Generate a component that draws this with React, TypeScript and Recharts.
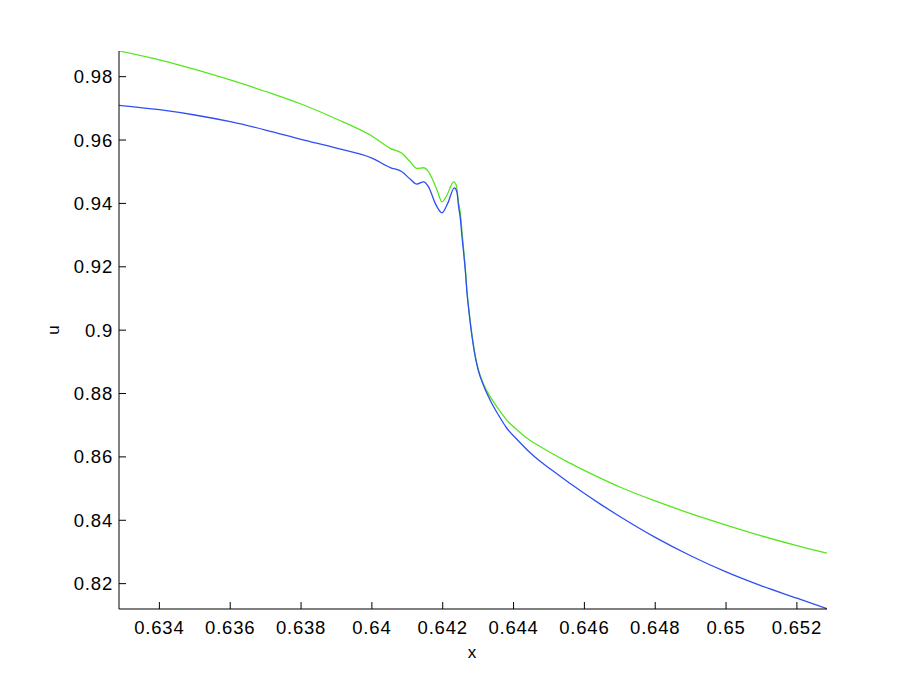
import { LineChart, Line, XAxis, YAxis } from 'recharts';

// green run: x positions and u values
const xGreen = [
  0.63286, 0.634, 0.635, 0.636, 0.637, 0.638, 0.639, 0.64, 0.64052, 0.64085, 0.64108, 0.64127,
  0.64146, 0.6416, 0.64184, 0.64198, 0.64212, 0.64231, 0.64238, 0.64245, 0.6425, 0.64254, 0.64259,
  0.64264, 0.64268, 0.64275, 0.64283, 0.64292, 0.643, 0.64315, 0.64334, 0.64358, 0.6438, 0.6441,
  0.64447, 0.64475, 0.64504, 0.64551, 0.64588, 0.64645, 0.647, 0.648, 0.649, 0.65, 0.651, 0.652, 0.65285,
];
const uGreen = [
  0.98812, 0.98528, 0.98227, 0.97896, 0.97532, 0.97137, 0.96664, 0.96126, 0.95738, 0.9558, 0.95314, 0.95106,
  0.95125, 0.94998, 0.9442, 0.94051, 0.94262, 0.94682, 0.94578, 0.94, 0.9368, 0.9316, 0.9256,
  0.9192, 0.9129, 0.9053, 0.8981, 0.8918, 0.8878, 0.883, 0.879, 0.875, 0.8717, 0.8685,
  0.8652, 0.8633, 0.8614, 0.8585, 0.8564, 0.8533, 0.8505, 0.8461, 0.8421, 0.8385, 0.8351, 0.832, 0.8296,
];

// blue run
const xBlue = [
  0.63286, 0.634, 0.635, 0.636, 0.637, 0.638, 0.639, 0.64, 0.64052, 0.64085, 0.64108, 0.64127,
  0.64146, 0.6416, 0.64179, 0.64198, 0.64214, 0.64233, 0.6424, 0.64245, 0.6425, 0.64254, 0.64259,
  0.64264, 0.64268, 0.64275, 0.64283, 0.64292, 0.643, 0.64315, 0.64334, 0.64358, 0.6438, 0.6441,
  0.64447, 0.64475, 0.64504, 0.64551, 0.64588, 0.64645, 0.647, 0.648, 0.649, 0.65, 0.651, 0.652, 0.65285,
];
const uBlue = [
  0.97096, 0.96957, 0.9679, 0.96578, 0.96316, 0.96022, 0.95745, 0.95431, 0.95131, 0.94998, 0.94768, 0.9461,
  0.94682, 0.94524, 0.94, 0.93703, 0.94, 0.94493, 0.94367, 0.9389, 0.935, 0.93, 0.9245,
  0.9185, 0.9125, 0.905, 0.8978, 0.8915, 0.8875, 0.8826, 0.8779, 0.8731, 0.8692, 0.8655,
  0.8613, 0.8586, 0.8562, 0.8523, 0.8494, 0.8451, 0.8412, 0.8346, 0.8288, 0.8237, 0.8193, 0.8154, 0.8121,
];

const xTicks = [0.634, 0.636, 0.638, 0.64, 0.642, 0.644, 0.646, 0.648, 0.65, 0.652];
const yTicks = [0.82, 0.84, 0.86, 0.88, 0.9, 0.92, 0.94, 0.96, 0.98];

const greenData = xGreen.map((x, i) => ({ x, u: uGreen[i] }));
const blueData = xBlue.map((x, i) => ({ x, u: uBlue[i] }));

const font = { fontFamily: 'Liberation Sans, Arial, sans-serif', fontSize: 18.5, fill: '#000' };
const TL = 7;

const BottomTick = ({ x, y, payload }: any) => (
  <g>
    <line x1={x} y1={y} x2={x} y2={y - TL} stroke="#000" />
    <text x={x} y={y + 25} textAnchor="middle" letterSpacing={0.8} {...font}>{String(payload.value)}</text>
  </g>
);
const TopTick = ({ x, y }: any) => <line x1={x} y1={y} x2={x} y2={y + TL} stroke="#000" />;
const LeftTick = ({ x, y, payload }: any) => (
  <g>
    <line x1={x} y1={y} x2={x + TL} y2={y} stroke="#000" />
    <text x={x - 6} y={y + 6.5} textAnchor="end" letterSpacing={0.8} {...font}>{String(payload.value)}</text>
  </g>
);
const RightTick = ({ x, y }: any) => <line x1={x} y1={y} x2={x - TL} y2={y} stroke="#000" />;

export default function App() {
  const xDomain: [number, number] = [0.63286, 0.65285];
  const yDomain: [number, number] = [0.812, 0.9881];
  return (
    <div style={{ position: 'absolute', left: 0, top: 0, width: 913, height: 687, background: '#fff' }}>
      <LineChart width={913} height={687} margin={{ top: 51, right: 86, bottom: 48, left: 59 }}>
        <XAxis
          dataKey="x" type="number" domain={xDomain} ticks={xTicks} allowDataOverflow
          height={30} tickSize={0} tickMargin={0} tickLine={false} tick={<BottomTick />}
          axisLine={{ stroke: '#000' }}
          label={{
            content: ({ viewBox }: any) => (
              <text x={viewBox.x + viewBox.width / 2 - 1} y={viewBox.y + 49} textAnchor="middle" {...font} fontSize={17}>x</text>
            ),
          }}
        />
        <XAxis
          xAxisId="top" orientation="top" dataKey="x" type="number" domain={xDomain} ticks={xTicks}
          allowDataOverflow height={0} tickSize={0} tickMargin={0} tickLine={false} tick={<TopTick />}
          axisLine={{ stroke: '#000' }}
        />
        <YAxis
          dataKey="u" type="number" domain={yDomain} ticks={yTicks} allowDataOverflow width={60}
          tickSize={0} tickMargin={0} tickLine={false} tick={<LeftTick />} axisLine={{ stroke: '#000' }}
          label={{
            content: ({ viewBox }: any) => {
              const cx = viewBox.x;
              const cy = viewBox.y + viewBox.height / 2;
              return (
                <text x={cx} y={cy} textAnchor="middle" transform={`rotate(-90 ${cx} ${cy})`} {...font} fontSize={17}>u</text>
              );
            },
          }}
        />
        <YAxis
          yAxisId="right" orientation="right" type="number" domain={yDomain} ticks={yTicks} allowDataOverflow
          width={0} tickSize={0} tickMargin={0} tickLine={false} tick={<RightTick />} axisLine={{ stroke: '#000' }}
        />
        <Line data={greenData} type="monotone" dataKey="u" stroke="#55e61e" strokeWidth={1.3} dot={false} isAnimationActive={false} />
        <Line data={blueData} type="monotone" dataKey="u" stroke="#2f4ff5" strokeWidth={1.3} dot={false} isAnimationActive={false} />
      </LineChart>
    </div>
  );
}
